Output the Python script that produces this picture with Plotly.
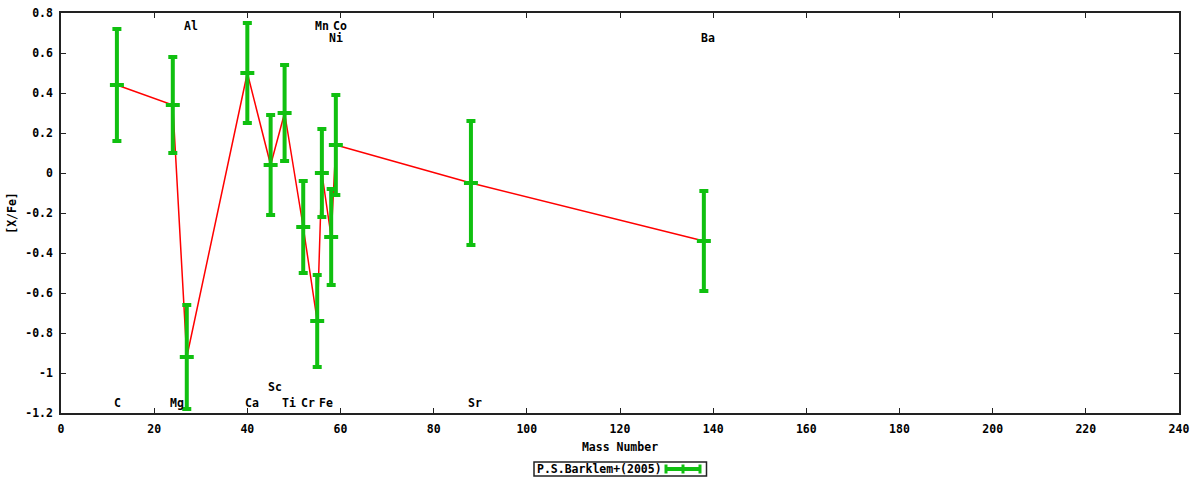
import plotly.graph_objects as go

# ---- data ----
elements = ["C", "Mg", "Al", "Ca", "Sc", "Ti", "Cr", "Mn", "Fe", "Ni", "Co", "Sr", "Ba"]
mass = [12, 24, 27, 40, 45, 48, 52, 55, 56, 58, 59, 88, 138]
x_fe = [0.44, 0.34, -0.92, 0.50, 0.04, 0.30, -0.27, -0.74, 0.00, -0.32, 0.14, -0.05, -0.34]
x_fe_err = [0.28, 0.24, 0.26, 0.25, 0.25, 0.24, 0.23, 0.23, 0.22, 0.24, 0.25, 0.31, 0.25]
label_y = [-1.15, -1.15, 0.735, -1.15, -1.07, -1.15, -1.15, 0.735, -1.15, 0.675, 0.735, -1.15, 0.675]

x_tickvals = [0, 20, 40, 60, 80, 100, 120, 140, 160, 180, 200, 220, 240]
x_ticktext = ["0", "20", "40", "60", "80", "100", "120", "140", "160", "180", "200", "220", "240"]
y_tickvals = [-1.2, -1.0, -0.8, -0.6, -0.4, -0.2, 0.0, 0.2, 0.4, 0.6, 0.8]
y_ticktext = ["-1.2", "-1", "-0.8", "-0.6", "-0.4", "-0.2", "0", "0.2", "0.4", "0.6", "0.8"]

series_name = "P.S.Barklem+(2005)"

GREEN = "#10c010"
RED = "#ff0000"
FONT = "DejaVu Sans Mono"

fig = go.Figure()

# connecting line
fig.add_trace(go.Scatter(
    x=mass, y=x_fe, mode="lines",
    line=dict(color=RED, width=1.5),
    showlegend=False, hoverinfo="skip",
))

# error bars
fig.add_trace(go.Scatter(
    x=mass, y=x_fe, mode="markers",
    marker=dict(symbol="line-ew", size=10, color=GREEN,
                line=dict(color=GREEN, width=4)),
    error_y=dict(type="data", array=x_fe_err, visible=True,
                 color=GREEN, thickness=4, width=4.5),
    name=series_name, showlegend=False,
))

annotations = []
for el, m, ly in zip(elements, mass, label_y):
    annotations.append(dict(
        x=m, y=ly, xref="x", yref="y", text=el, showarrow=False,
        xanchor="left", yanchor="middle", xshift=-4.5,
        font=dict(family=FONT, size=11.5, color="black", weight="bold"),
    ))

# legend (box with text and an error-bar sample)
L, R, T, B = 61, 1179, 13, 413
def px(v):
    return (v - L) / (R - L)
def py(v):
    return (B - v) / (B - T)

annotations.append(dict(
    x=px(535), y=py(469), xref="paper", yref="paper", text=series_name,
    showarrow=False, xanchor="left", yanchor="middle",
    font=dict(family=FONT, size=11.5, color="black", weight="bold"),
))

shapes = [
    dict(type="rect", xref="paper", yref="paper",
         x0=px(534), x1=px(706.5), y0=py(476), y1=py(462),
         line=dict(color="#222222", width=1.5), fillcolor="white", layer="below"),
    dict(type="line", xref="paper", yref="paper",
         x0=px(666), x1=px(700), y0=py(469), y1=py(469),
         line=dict(color=GREEN, width=4)),
]
for cx in (666, 683, 700):
    shapes.append(dict(type="line", xref="paper", yref="paper",
                       x0=px(cx), x1=px(cx), y0=py(473.5), y1=py(464.5),
                       line=dict(color=GREEN, width=3)))

fig.update_layout(
    width=1200, height=480,
    margin=dict(l=L, r=1200 - R, t=T, b=480 - B, autoexpand=False),
    paper_bgcolor="white", plot_bgcolor="white",
    font=dict(family=FONT, size=11.5, color="black", weight="bold"),
    annotations=annotations,
    shapes=shapes,
    showlegend=False,
)

fig.update_xaxes(
    range=[0, 240], tickmode="array", tickvals=x_tickvals, ticktext=x_ticktext,
    ticks="inside", ticklen=5, tickcolor="#222222", tickwidth=1,
    showline=True, linecolor="#222222", linewidth=1.5, mirror="ticks",
    showgrid=False, zeroline=False, automargin=False,
    title=dict(text="Mass Number", standoff=8,
               font=dict(family=FONT, size=11.5, color="black", weight="bold")),
    ticklabelstandoff=4,
)
fig.update_yaxes(
    range=[-1.2, 0.8], tickmode="array", tickvals=y_tickvals, ticktext=y_ticktext,
    ticks="inside", ticklen=5, tickcolor="#222222", tickwidth=1,
    showline=True, linecolor="#222222", linewidth=1.5, mirror="ticks",
    showgrid=False, zeroline=False, automargin=False,
    title=dict(text="[X/Fe]", standoff=6,
               font=dict(family=FONT, size=11.5, color="black", weight="bold")),
    ticklabelstandoff=4,
)

fig.write_html(
    "out.html",
    config={"displayModeBar": False},
    post_script="document.body.style.margin='0';document.documentElement.style.overflow='hidden';",
)
